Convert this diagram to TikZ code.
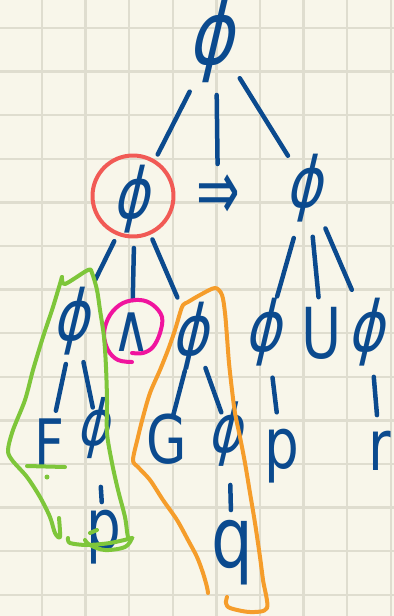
\documentclass[tikz,border=0pt]{standalone}
\usepackage{fontspec}
\setmainfont{DejaVu Sans}
\definecolor{paper}{HTML}{F8F6EA}
\definecolor{gridline}{HTML}{DFDDCF}
\definecolor{inkblue}{HTML}{0B4A8E}
\definecolor{ringred}{HTML}{F15A55}
\definecolor{ringpink}{HTML}{F0149E}
\definecolor{loopgreen}{HTML}{7EC63A}
\definecolor{looporange}{HTML}{F59D2B}
\tikzset{
  sym/.style={text=inkblue, inner sep=0pt, xscale=0.78, font=\fontsize{40}{40}\selectfont},
  phi/.style={sym, xslant=0.3},
  branch/.style={draw=inkblue, line width=0.09cm, line cap=round},
  pen/.style={line width=0.08cm, line cap=round, line join=round},
}
\begin{document}
\begin{tikzpicture}[x=0.02cm, y=-0.02cm]
        \fill[paper] (0,0) rectangle (394,616);
        \useasboundingbox (0,0) rectangle (394,616);
        \foreach \i in {0,...,8}
            \draw[gridline, line width=0.05cm] (42+43.6*\i,0) -- ++(0,616);
        \foreach \j in {0,...,13}
            \draw[gridline, line width=0.05cm] (0,28+43.6*\j) -- ++(394,0);

        \node[phi, font=\fontsize{50}{50}\selectfont] (1) at (216,40) {ϕ};
        \node[phi] (2) at (135,199) {ϕ};
        \node[sym, yscale=1.3, font=\fontsize{38}{38}\selectfont] (3) at (218,198) {⇒};
        \node[phi] (4) at (308,188) {ϕ};
        \node[phi] (5) at (75,321) {ϕ};
        \node[sym, font=\fontsize{38}{38}\selectfont] (6) at (132,332) {∧};
        \node[phi] (7) at (194,336) {ϕ};
        \node[phi] (8) at (267,332) {ϕ};
        \node[sym] (9) at (322,333) {U};
        \node[phi] (10) at (370,332) {ϕ};
        \node[sym, font=\fontsize{38}{38}\selectfont] (11) at (49,443) {F};
        \node[phi, font=\fontsize{36}{36}\selectfont] (12) at (97,428) {ϕ};
        \node[sym, font=\fontsize{38}{38}\selectfont] (13) at (167,439) {G};
        \node[phi, font=\fontsize{38}{38}\selectfont] (14) at (229,434) {ϕ};
        \node[sym] (15) at (282,456) {p};
        \node[sym] (16) at (380,451) {r};
        \node[sym] (17) at (104,537) {p};
        \node[sym, font=\fontsize{48}{48}\selectfont] (18) at (232,553) {q};

        % gaps left at both ends of a branch, in pixels
        \foreach \from / \to / \s / \e in {1/2/58/50, 1/3/55/34, 1/4/45/38,
                2/5/47/46, 2/6/49/32, 2/7/44/42, 4/8/52/37, 4/9/49/36, 4/10/44/46}
            \path (\from.center) edge[branch, shorten <=\s*0.02cm, shorten >=\e*0.02cm] (\to.center);

        \foreach \from / \to / \s / \e in {5/11/44/33, 5/12/42/21, 12/17/59/35,
                7/13/36/25, 7/14/34/23, 14/18/51/43, 8/15/46/44, 10/16/45/36}
            \path (\from.center) edge[branch, shorten <=\s*0.02cm, shorten >=\e*0.02cm] (\to.center);

        % marks round the subformulas
        \draw[pen, ringred] (133,196) circle[radius=0.81cm];
        \draw[pen, ringpink] plot[smooth, tension=0.6] coordinates {(132,353) (143,353) (153,347) (160,333) (162,317) (153,305) (140,300) (123,303) (110,315) (104,333) (108,350) (118,360) (132,362)};
        \draw[pen, loopgreen] plot[smooth, tension=0.5] coordinates {(59,518) (60,537) (55,533) (50,517) (40,497) (27,477) (12,460) (8,450) (13,430) (25,400) (33,370) (43,337) (53,307) (62,277)};
        \draw[pen, loopgreen] plot[smooth, tension=0.5] coordinates {(62,277) (65,284) (88,270) (92,273) (97,290) (100,310) (104,337) (106,367) (107,400) (107,433) (112,463) (118,490) (125,517) (128,537) (132,538) (110,543) (87,545) (70,543) (68,538)};
        \draw[pen, loopgreen] plot[smooth, tension=0.6] coordinates {(132,538) (125,547) (105,550) (90,545) (85,540)};
        \draw[pen, loopgreen] (27,466) -- (65,467);
        \draw[pen, loopgreen] (90,533) -- (97,530);
        \fill[loopgreen] (47,477) circle[radius=0.05cm];
        \draw[pen, looporange] plot[smooth, tension=0.5] coordinates {(227,597) (226,603) (230,608) (250,612) (267,608) (263,580) (260,557) (255,523) (250,493) (245,463) (240,437) (235,413) (232,390) (229,363) (227,337) (225,313) (222,295) (215,288) (200,295) (188,302) (183,305) (180,313) (175,330) (168,350) (160,370) (150,393) (143,417) (138,437) (133,460) (138,467) (150,480) (163,500) (177,520) (188,540) (197,557) (203,573) (207,587) (208,593)};
\end{tikzpicture}
\end{document}
